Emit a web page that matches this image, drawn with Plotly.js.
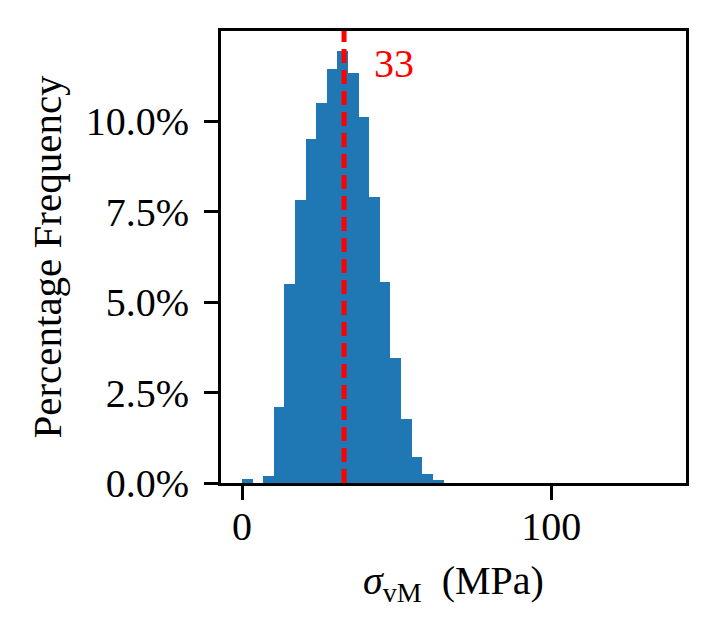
<!DOCTYPE html>
<html>
<head>
<meta charset="utf-8">
<script src="https://cdn.plot.ly/plotly-2.35.2.min.js"></script>
<style>html,body{margin:0;padding:0;background:#fff;}#chart{width:716px;height:637px;}</style>
</head>
<body>
<div id="chart"></div>
<script>
// Histogram data (percentage frequency per bin)
const binStart = 0;
const binWidth = 3.43;
const percentages = [0.11, 0, 0.2, 2.11, 5.5, 7.82, 9.51, 10.51, 11.44, 11.93, 11.34, 10.11, 7.91, 5.56, 3.45, 1.78, 0.73, 0.25, 0.08];
const meanValue = [33];
const xTickVals = [0, 100];
const yTickVals = [0, 2.5, 5, 7.5, 10];

const centers = percentages.map((_, i) => binStart + (i + 0.5) * binWidth);

const FONT = "Liberation Serif, DejaVu Serif, serif";

const trace = {
  type: 'bar',
  x: centers,
  y: percentages,
  width: percentages.map(() => binWidth),
  marker: {color: '#1f77b4', line: {width: 0}},
  hoverinfo: 'skip'
};

const layout = {
  width: 716, height: 637,
  margin: {l: 221, r: 30, t: 31, b: 154},
  paper_bgcolor: '#fff', plot_bgcolor: '#fff',
  showlegend: false,
  bargap: 0,
  font: {family: FONT, size: 40, color: '#000'},
  xaxis: {
    range: [-6.8, 143.6],
    tickvals: xTickVals,
    ticktext: xTickVals.map(String),
    ticks: 'outside', ticklen: 14, tickwidth: 3, tickcolor: '#000',
    showline: true, linewidth: 3, linecolor: '#000', mirror: true,
    showgrid: false, zeroline: false,
    ticklabelstandoff: -8,
    tickfont: {family: FONT, size: 40},
    title: {text: '<i>σ</i><sub>vM</sub>  (MPa)', font: {family: FONT, size: 40}, standoff: 18}
  },
  yaxis: {
    range: [0, 12.49],
    tickvals: yTickVals,
    ticktext: yTickVals.map(v => v.toFixed(1) + '%'),
    ticks: 'outside', ticklen: 14, tickwidth: 3, tickcolor: '#000',
    showline: true, linewidth: 3, linecolor: '#000', mirror: true,
    showgrid: false, zeroline: false,
    ticklabelstandoff: 7,
    tickfont: {family: FONT, size: 40},
    title: {text: 'Percentage Frequency', font: {family: FONT, size: 41}, standoff: 12}
  },
  shapes: [{
    type: 'line', xref: 'x', yref: 'paper',
    x0: meanValue[0], x1: meanValue[0], y0: 0, y1: 1,
    line: {color: 'red', width: 5, dash: '14px,7px'}
  }],
  annotations: [{
    xref: 'x', yref: 'y',
    x: meanValue[0] + 9, y: 11.6,
    xanchor: 'left', yanchor: 'middle',
    text: String(meanValue[0]),
    showarrow: false,
    font: {family: FONT, size: 40, color: 'red'}
  }]
};

Plotly.newPlot('chart', [trace], layout, {staticPlot: true, displayModeBar: false});
</script>
</body>
</html>
